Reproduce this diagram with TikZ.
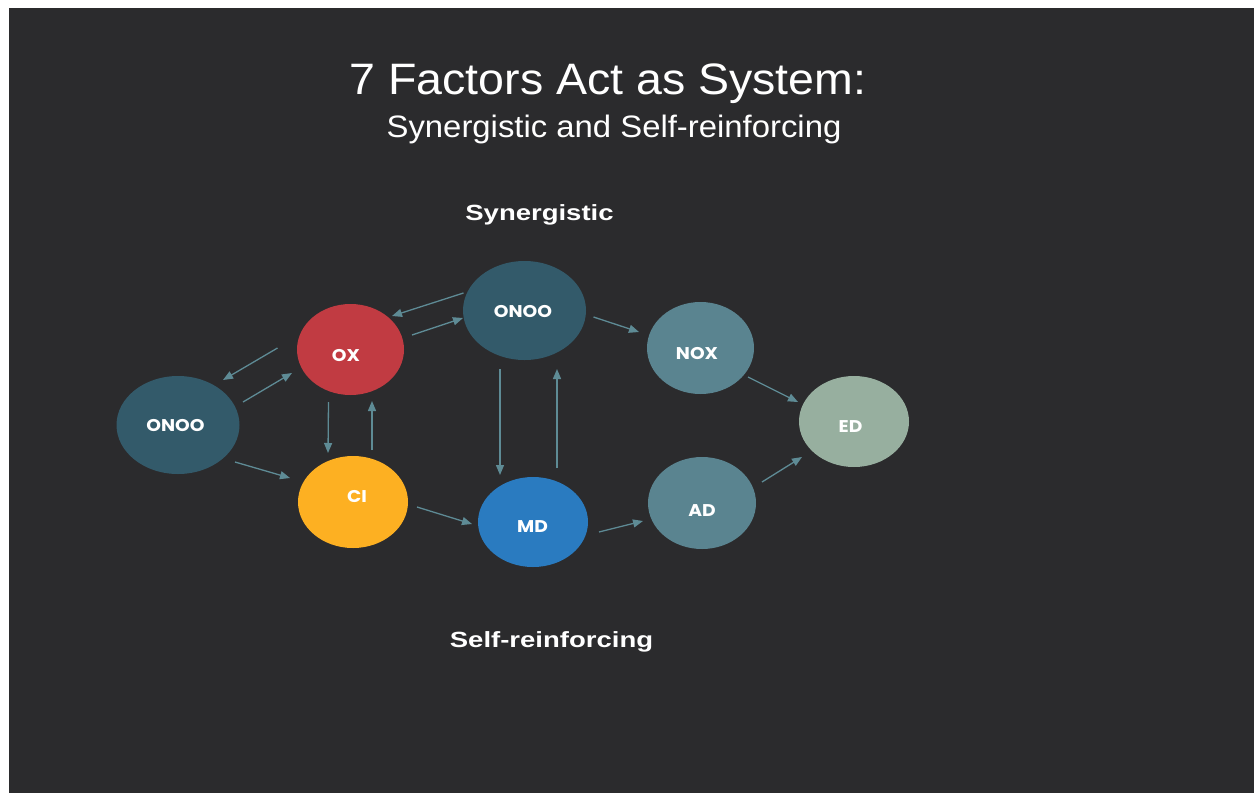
\documentclass[tikz,border=0pt]{standalone}
\usepackage{fontspec}
\setmainfont{Liberation Sans}
\newfontfamily\titlefont{Liberation Sans}[FakeStretch=1.057]
\newfontfamily\subfont{Liberation Sans}[FakeStretch=1.06]
\newfontfamily\widebold{Liberation Sans}[FakeStretch=1.25]
\newfontfamily\nodefont{Poppins}[FakeStretch=1.1]
\usetikzlibrary{arrows.meta,calc,shapes.geometric}
\definecolor{bgdark}{HTML}{2B2B2D}
\definecolor{conoo}{HTML}{335A6A}
\definecolor{cox}{HTML}{C13B42}
\definecolor{cnox}{HTML}{5A8490}
\definecolor{cci}{HTML}{FDB022}
\definecolor{cmd}{HTML}{2A7BC0}
\definecolor{ced}{HTML}{97AF9F}
\definecolor{carrow}{HTML}{5E8B95}
\tikzset{
  factor/.style={ellipse, inner sep=0pt, draw=none},
  flabel/.style={anchor=base, text=white, font=\nodefont\bfseries\fontsize{17}{17}\selectfont},
  heading/.style={anchor=base, text=white, font=\widebold\bfseries\fontsize{22}{22}\selectfont},
  arr/.style={draw=carrow, line width=1.3pt, -{Triangle[length=10pt,width=8pt]}},
}
\begin{document}
\begin{tikzpicture}[x=1pt,y=-1pt]
\useasboundingbox (0,0) rectangle (1255,793);
\fill[white] (0,0) rectangle (1255,793);
\fill[bgdark] (9,8) rectangle (1254,793);

% title
\node[anchor=base, text=white, font=\titlefont\fontsize{44}{44}\selectfont] (title) at (608,94.5) {7 Factors Act as System:};
\node[anchor=base, text=white, font=\subfont\fontsize{31}{31}\selectfont] (subtitle) at (614,137) {Synergistic and Self-reinforcing};
\node[heading] (syn) at (539.5,220.7) {Synergistic};
\node[heading] (self) at (551.5,647) {Self-reinforcing};

% factor ellipses
\node[factor, fill=conoo, minimum width=123pt, minimum height=98pt] (onooL) at (178,425) {};
\node[factor, fill=cox, minimum width=107pt, minimum height=91pt] (ox) at (350.5,349.5) {};
\node[factor, fill=conoo, minimum width=123pt, minimum height=99pt] (onooT) at (524.5,310.5) {};
\node[factor, fill=cnox, minimum width=107pt, minimum height=92pt] (nox) at (700.5,348) {};
\node[factor, fill=cci, minimum width=110pt, minimum height=92pt] (ci) at (353,502) {};
\node[factor, fill=cmd, minimum width=110pt, minimum height=90pt] (md) at (533,522) {};
\node[factor, fill=cnox, minimum width=108pt, minimum height=92pt] (ad) at (702,503) {};
\node[factor, fill=ced, minimum width=110pt, minimum height=91pt] (ed) at (854,421.5) {};

% labels
\node[flabel] (tL) at (175.5,431) {ONOO};
\node[flabel] (tOX) at (346,361) {OX};
\node[flabel] (tT) at (523,317) {ONOO};
\node[flabel] (tNOX) at (697,359) {NOX};
\node[flabel] (tCI) at (357,502.6) {CI};
\node[flabel] (tMD) at (532.5,532.6) {MD};
\node[flabel] (tAD) at (702,516) {AD};
\node[flabel] (tED) at (850.5,432) {ED};

% connectors
\draw[arr] ($(onooT)+(-61,-17.5)$) -- ($(ox)+(41.5,-33.5)$);
\draw[arr] ($(ox)+(61.5,-14.5)$) -- ($(onooT)+(-61.5,7.5)$);
\draw[arr] ($(ox)+(-73,-1.5)$) -- ($(onooL)+(45,-45)$);
\draw[arr] ($(onooL)+(65,-23)$) -- ($(ox)+(-58.5,23.5)$);
\draw[arr] ($(ox)+(-22,52.5)$) -- ($(ci)+(-25,-49)$);
\draw[arr] ($(ci)+(19,-52)$) -- ($(ox)+(21.5,51.5)$);
\draw[arr] ($(onooL)+(57,37)$) -- ($(ci)+(-63,-24)$);
\draw[arr] ($(onooT)+(69,6.5)$) -- ($(nox)+(-61.5,-16)$);
\draw[arr] ($(onooT)+(-24.5,58.5)$) -- ($(md)+(-33,-47)$);
\draw[arr] ($(md)+(24,-54)$) -- ($(onooT)+(32.5,58.5)$);
\draw[arr] ($(ci)+(64,5)$) -- ($(md)+(-61,2)$);
\draw[arr] ($(md)+(66,10)$) -- ($(ad)+(-59,18)$);
\draw[arr] ($(nox)+(47.5,29)$) -- ($(ed)+(-56,-19.5)$);
\draw[arr] ($(ad)+(60,-21)$) -- ($(ed)+(-52,35.5)$);
\end{tikzpicture}
\end{document}
